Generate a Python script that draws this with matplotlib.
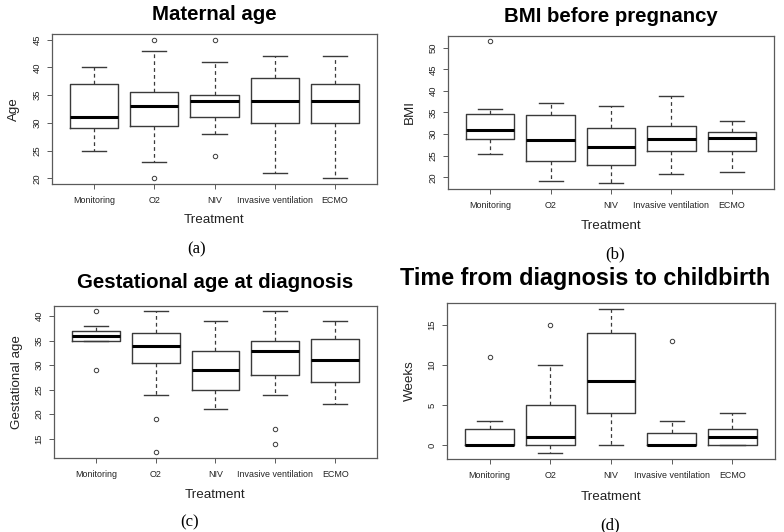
import matplotlib
matplotlib.use("Agg")
import matplotlib.pyplot as plt

plt.rcParams['font.family'] = ['Liberation Sans', 'DejaVu Sans']

categories = ["Monitoring", "O2", "NIV", "Invasive ventilation", "ECMO"]

# Panel (a) Maternal age
age_whislo = [25, 23, 28, 21, 20]
age_q1 = [29, 29.5, 31, 30, 30]
age_med = [31, 33, 34, 34, 34]
age_q3 = [37, 35.5, 35, 38, 37]
age_whishi = [40, 43, 41, 42, 42]
age_fliers = [[], [45, 20], [45, 24], [], []]
age_ticks = [20, 25, 30, 35, 40, 45]

# Panel (b) BMI before pregnancy
bmi_whislo = [25.4, 19.1, 18.6, 20.8, 21.3]
bmi_q1 = [28.8, 23.8, 22.9, 26.1, 26.1]
bmi_med = [30.9, 28.6, 27.1, 28.8, 29.1]
bmi_q3 = [34.7, 34.4, 31.4, 31.9, 30.5]
bmi_whishi = [35.8, 37.1, 36.5, 38.8, 33.1]
bmi_fliers = [[51.5], [], [], [], []]
bmi_ticks = [20, 25, 30, 35, 40, 45, 50]

# Panel (c) Gestational age at diagnosis
ga_whislo = [35, 24, 21, 24, 22]
ga_q1 = [35, 30.5, 25, 28, 26.5]
ga_med = [36, 34, 29, 33, 31]
ga_q3 = [37, 36.6, 33, 35, 35.4]
ga_whishi = [38, 41, 39, 41, 39]
ga_fliers = [[41, 29], [19, 12.2], [], [17, 14], []]
ga_ticks = [15, 20, 25, 30, 35, 40]

# Panel (d) Time from diagnosis to childbirth
wk_whislo = [0, -1, 0, 0, 0]
wk_q1 = [0, 0, 4, 0, 0]
wk_med = [0, 1, 8, 0, 1]
wk_q3 = [2, 5, 14, 1.5, 2]
wk_whishi = [3, 10, 17, 3, 4]
wk_fliers = [[11], [15], [], [13], []]
wk_ticks = [0, 5, 10, 15]

W, H = 784, 532
fig = plt.figure(figsize=(W / 100, H / 100), dpi=100)


def px_text(x, y, s, **kw):
    fig.text(x / W, 1 - y / H, s, **kw)


def make_axes(l, r, t, b):
    return fig.add_axes([l / W, 1 - b / H, (r - l) / W, (b - t) / H])


panels = [
    dict(box=(52, 377, 34, 184), title="Maternal age", tsize=14.7, tpos=(214, 15), ylabel="Age", ypos=(14, 109),
         xlpos=(214, 220), cap="(a)", cpos=(197, 249),
         data=(age_whislo, age_q1, age_med, age_q3, age_whishi, age_fliers), ticks=age_ticks),
    dict(box=(448, 774, 35.5, 189), title="BMI before pregnancy", tsize=14.7, tpos=(611, 16), ylabel="BMI",
         ypos=(410, 112), xlpos=(611, 226), cap="(b)", cpos=(615, 254),
         data=(bmi_whislo, bmi_q1, bmi_med, bmi_q3, bmi_whishi, bmi_fliers), ticks=bmi_ticks),
    dict(box=(54, 377, 305.7, 458), title="Gestational age at diagnosis", tsize=14.7, tpos=(215, 282),
         ylabel="Gestational age", ypos=(17, 382), xlpos=(215, 495), cap="(c)", cpos=(190, 522),
         data=(ga_whislo, ga_q1, ga_med, ga_q3, ga_whishi, ga_fliers), ticks=ga_ticks),
    dict(box=(447, 775, 303, 459), title="Time from diagnosis to childbirth", tsize=16.8, tpos=(585, 279),
         ylabel="Weeks", ypos=(410, 381), xlpos=(611, 497), cap="(d)", cpos=(610, 525),
         data=(wk_whislo, wk_q1, wk_med, wk_q3, wk_whishi, wk_fliers), ticks=wk_ticks),
]

line_col = "#3a3a3a"
frame_col = "#5a5a5a"

for p in panels:
    ax = make_axes(*p["box"])
    wl, q1, md, q3, wh, fl = p["data"]
    stats = []
    for i in range(len(categories)):
        stats.append(dict(whislo=wl[i], q1=q1[i], med=md[i], q3=q3[i], whishi=wh[i], fliers=fl[i]))
    ax.bxp(stats, positions=range(1, len(categories) + 1), widths=0.8, showfliers=True,
           boxprops=dict(color=line_col, linewidth=1.0),
           medianprops=dict(color="black", linewidth=2.2, solid_capstyle="butt"),
           whiskerprops=dict(color=line_col, linewidth=0.9, linestyle=(0, (3, 2.5))),
           capprops=dict(color=line_col, linewidth=1.0),
           flierprops=dict(marker="o", markersize=3.2, markerfacecolor="none",
                           markeredgecolor=line_col, markeredgewidth=0.7),
           capwidths=0.4)
    vals = wl + wh + [v for f in fl for v in f]
    lo, hi = min(vals), max(vals)
    pad = (hi - lo) * 0.04
    ax.set_ylim(lo - pad, hi + pad)
    ax.set_xlim(0.3, len(categories) + 0.7)
    ax.set_xticks(range(1, len(categories) + 1))
    ax.set_xticklabels(categories, fontsize=6.4, color="#222222")
    ax.set_yticks(p["ticks"])
    ax.set_yticklabels([str(t) for t in p["ticks"]], fontsize=6.8, rotation=90, va="center", color="#222222")
    ax.tick_params(axis="both", direction="out", length=3.6, width=0.7, color=frame_col)
    ax.tick_params(axis="x", pad=5.0)
    ax.tick_params(axis="y", pad=4.0)
    for s in ax.spines.values():
        s.set_color(frame_col)
        s.set_linewidth(0.9)
    px_text(*p["tpos"], p["title"], fontsize=p["tsize"], fontweight="bold", ha="center", va="center")
    px_text(*p["xlpos"], "Treatment", fontsize=9.6, ha="center", va="center", color="#222222")
    px_text(*p["ypos"], p["ylabel"], fontsize=9.6, ha="center", va="center", rotation=90, color="#222222")
    px_text(*p["cpos"], p["cap"], fontsize=12, ha="center", va="center", family="Liberation Serif")

fig.savefig("out.png", dpi=100)
